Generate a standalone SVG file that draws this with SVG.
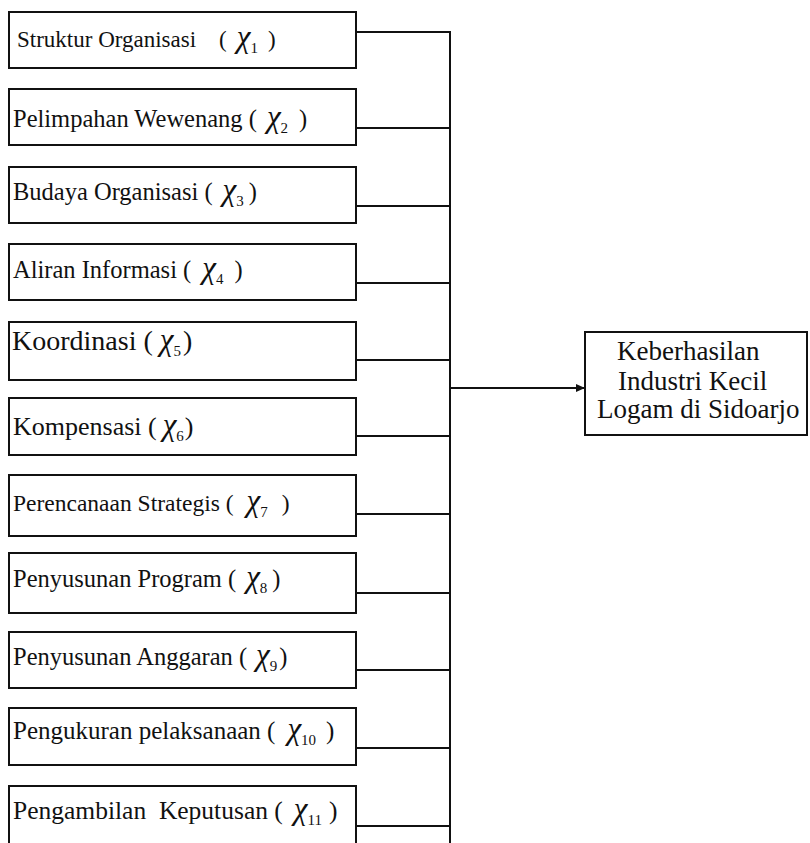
<svg xmlns="http://www.w3.org/2000/svg" width="810" height="843" viewBox="0 0 810 843">
<style>
.box{fill:#fff;stroke:#111;stroke-width:2}
.t{font-family:"Liberation Serif","Times New Roman",serif;font-size:24.5px;fill:#111;white-space:pre}
.x{font-style:italic;font-size:31px}
.s{font-size:15px}
.c{fill:none;stroke:#111;stroke-width:2}
.tt{font-family:"Liberation Serif","Times New Roman",serif;font-size:27px;fill:#111}
</style>
<defs>
<marker id="ah" markerWidth="10" markerHeight="10" refX="8" refY="5" orient="auto" markerUnits="userSpaceOnUse">
<path d="M0,1 L9,5 L0,9 Z" fill="#111"/>
</marker>
</defs>
<g id="connectors">
<path class="c" d="M356,32 H450 M356,128 H450 M356,206 H450 M356,283 H450 M356,360 H450 M356,436 H450 M356,514 H450 M356,593 H450 M356,670 H450 M356,748 H450 M356,826 H450"/>
<path class="c" d="M450,31 V843"/>
<path class="c" d="M450,388 H584" marker-end="url(#ah)"/>
</g>
<g id="x1"><rect class="box" x="9" y="12" width="347" height="56"/><text class="t" x="17" y="47" style="font-size:23px">Struktur Organisasi    (<tspan class="x" dx="10">χ</tspan><tspan class="s" dy="6">1</tspan><tspan dy="-6" dx="10">)</tspan></text></g>
<g id="x2"><rect class="box" x="9" y="89" width="347" height="56"/><text class="t" x="13" y="127">Pelimpahan Wewenang (<tspan class="x" dx="10">χ</tspan><tspan class="s" dy="6">2</tspan><tspan dy="-6" dx="11">)</tspan></text></g>
<g id="x3"><rect class="box" x="9" y="167" width="347" height="56"/><text class="t" x="13" y="200">Budaya Organisasi (<tspan class="x" dx="10">χ</tspan><tspan class="s" dy="6">3</tspan><tspan dy="-6" dx="5">)</tspan></text></g>
<g id="x4"><rect class="box" x="9" y="244" width="347" height="56"/><text class="t" x="13" y="278">Aliran Informasi (<tspan class="x" dx="11">χ</tspan><tspan class="s" dy="6">4</tspan><tspan dy="-6" dx="11">)</tspan></text></g>
<g id="x5"><rect class="box" x="9" y="322" width="347" height="58"/><text class="t" x="12" y="350" style="font-size:28px">Koordinasi (<tspan class="x" dx="7">χ</tspan><tspan class="s" dy="6">5</tspan><tspan dy="-6" dx="2">)</tspan></text></g>
<g id="x6"><rect class="box" x="9" y="398" width="347" height="57"/><text class="t" x="13" y="435" style="font-size:26px">Kompensasi (<tspan class="x" dx="6">χ</tspan><tspan class="s" dy="6">6</tspan><tspan dy="-6" dx="1">)</tspan></text></g>
<g id="x7"><rect class="box" x="9" y="475" width="347" height="61"/><text class="t" x="13" y="511" style="font-size:23.5px">Perencanaan Strategis (<tspan class="x" dx="13">χ</tspan><tspan class="s" dy="6">7</tspan><tspan dy="-6" dx="14">)</tspan></text></g>
<g id="x8"><rect class="box" x="9" y="553" width="347" height="60"/><text class="t" x="13" y="587">Penyusunan Program (<tspan class="x" dx="10">χ</tspan><tspan class="s" dy="6">8</tspan><tspan dy="-6" dx="5">)</tspan></text></g>
<g id="x9"><rect class="box" x="9" y="632" width="347" height="56"/><text class="t" x="13" y="665">Penyusunan Anggaran (<tspan class="x" dx="9">χ</tspan><tspan class="s" dy="6">9</tspan><tspan dy="-6" dx="2">)</tspan></text></g>
<g id="x10"><rect class="box" x="9" y="708" width="347" height="57"/><text class="t" x="13" y="739" style="font-size:25px">Pengukuran pelaksanaan (<tspan class="x" dx="12">χ</tspan><tspan class="s" dy="6">10</tspan><tspan dy="-6" dx="10">)</tspan></text></g>
<g id="x11"><rect class="box" x="9" y="786" width="347" height="80"/><text class="t" x="13" y="819" style="font-size:25.5px">Pengambilan  Keputusan (<tspan class="x" dx="11">χ</tspan><tspan class="s" dy="6">11</tspan><tspan dy="-6" dx="7">)</tspan></text></g>
<g id="y"><rect class="box" x="585" y="332" width="222" height="103"/>
<text class="tt" x="617" y="360">Keberhasilan</text>
<text class="tt" x="618" y="390">Industri Kecil</text>
<text class="tt" x="597" y="418">Logam di Sidoarjo</text></g>
</svg>
